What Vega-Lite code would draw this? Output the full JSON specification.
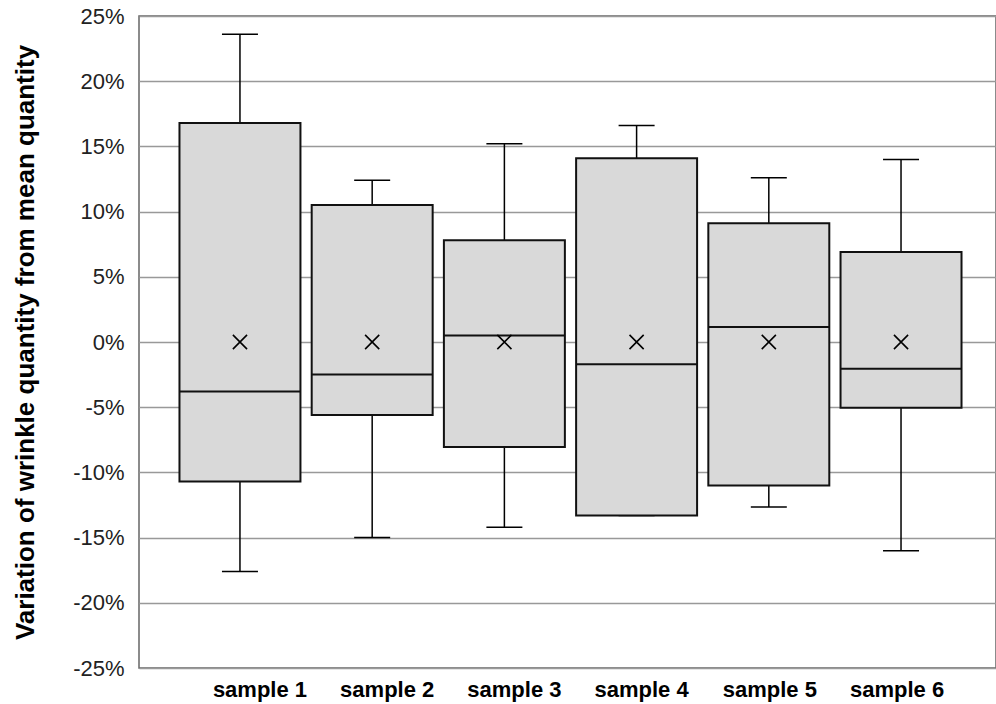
{
  "$schema": "https://vega.github.io/schema/vega-lite/v6.json",
  "autosize": "none",
  "width": 857,
  "height": 652,
  "padding": {"left": 139, "top": 16, "right": 0, "bottom": 36},
  "background": "white",
  "config": {
    "font": "Liberation Sans",
    "view": {"stroke": "#666", "strokeWidth": 1.5}
  },
  "data": {
    "values": [
      {"sample": "sample 1", "lo": -17.6, "q1": -10.7, "median": -3.8, "q3": 16.8, "hi": 23.6, "mean": 0},
      {"sample": "sample 2", "lo": -15.0, "q1": -5.6, "median": -2.5, "q3": 10.5, "hi": 12.4, "mean": 0},
      {"sample": "sample 3", "lo": -14.2, "q1": -8.05, "median": 0.5, "q3": 7.8, "hi": 15.2, "mean": 0},
      {"sample": "sample 4", "lo": -13.3, "q1": -13.3, "median": -1.7, "q3": 14.1, "hi": 16.6, "mean": 0},
      {"sample": "sample 5", "lo": -12.65, "q1": -11.0, "median": 1.15, "q3": 9.1, "hi": 12.6, "mean": 0},
      {"sample": "sample 6", "lo": -16.0, "q1": -5.05, "median": -2.05, "q3": 6.9, "hi": 14.0, "mean": 0}
    ]
  },
  "encoding": {
    "x": {
      "field": "sample",
      "type": "nominal",
      "sort": null,
      "scale": {"paddingInner": 0, "paddingOuter": 0.241, "align": 0.547},
      "axis": {
        "title": null,
        "labelAngle": 0,
        "labelFont": "Liberation Sans",
        "labelFontSize": 22,
        "labelFontWeight": "bold",
        "labelColor": "#000",
        "labelPadding": 11,
        "labelOffset": {
          "condition": [
            {"test": "datum.value == 'sample 1'", "value": 20},
            {"test": "datum.value == 'sample 2'", "value": 15},
            {"test": "datum.value == 'sample 3'", "value": 10},
            {"test": "datum.value == 'sample 4'", "value": 5},
            {"test": "datum.value == 'sample 6'", "value": -4}
          ],
          "value": 1
        },
        "ticks": false,
        "domain": false,
        "grid": false
      }
    }
  },
  "layer": [
    {
      "mark": {"type": "rule", "stroke": "#000", "strokeWidth": 1.5},
      "encoding": {
        "y": {
          "field": "lo",
          "type": "quantitative",
          "scale": {"domain": [-25, 25], "nice": false},
          "axis": {
            "values": [-25, -20, -15, -10, -5, 0, 5, 10, 15, 20, 25],
            "labelExpr": "datum.value + '%'",
            "labelFont": "Liberation Sans",
            "labelFontSize": 22,
            "labelColor": "#222",
            "labelPadding": 15,
            "ticks": false,
            "domain": false,
            "grid": true,
            "gridColor": "#999",
            "gridWidth": 1.5,
            "title": "Variation of wrinkle quantity from mean quantity",
            "titleFont": "Liberation Sans",
            "titleFontSize": 26,
            "titleFontWeight": "bold",
            "titleColor": "#000",
            "titlePadding": 34
          }
        },
        "y2": {"field": "hi"}
      }
    },
    {
      "mark": {"type": "tick", "color": "#000", "size": 36, "thickness": 1.5, "opacity": 1},
      "encoding": {"y": {"field": "lo", "type": "quantitative"}}
    },
    {
      "mark": {"type": "tick", "color": "#000", "size": 36, "thickness": 1.5, "opacity": 1},
      "encoding": {"y": {"field": "hi", "type": "quantitative"}}
    },
    {
      "mark": {"type": "bar", "fill": "#d9d9d9", "stroke": "#111", "strokeWidth": 2, "width": {"band": 0.915}},
      "encoding": {
        "y": {"field": "q1", "type": "quantitative"},
        "y2": {"field": "q3"}
      }
    },
    {
      "mark": {"type": "tick", "color": "#111", "size": 121, "thickness": 2, "opacity": 1},
      "encoding": {"y": {"field": "median", "type": "quantitative"}}
    },
    {
      "mark": {"type": "point", "shape": "M-1,-1L1,1M-1,1L1,-1", "filled": false, "stroke": "#000", "strokeWidth": 1.6, "size": 200, "opacity": 1},
      "encoding": {"y": {"field": "mean", "type": "quantitative"}}
    }
  ]
}
